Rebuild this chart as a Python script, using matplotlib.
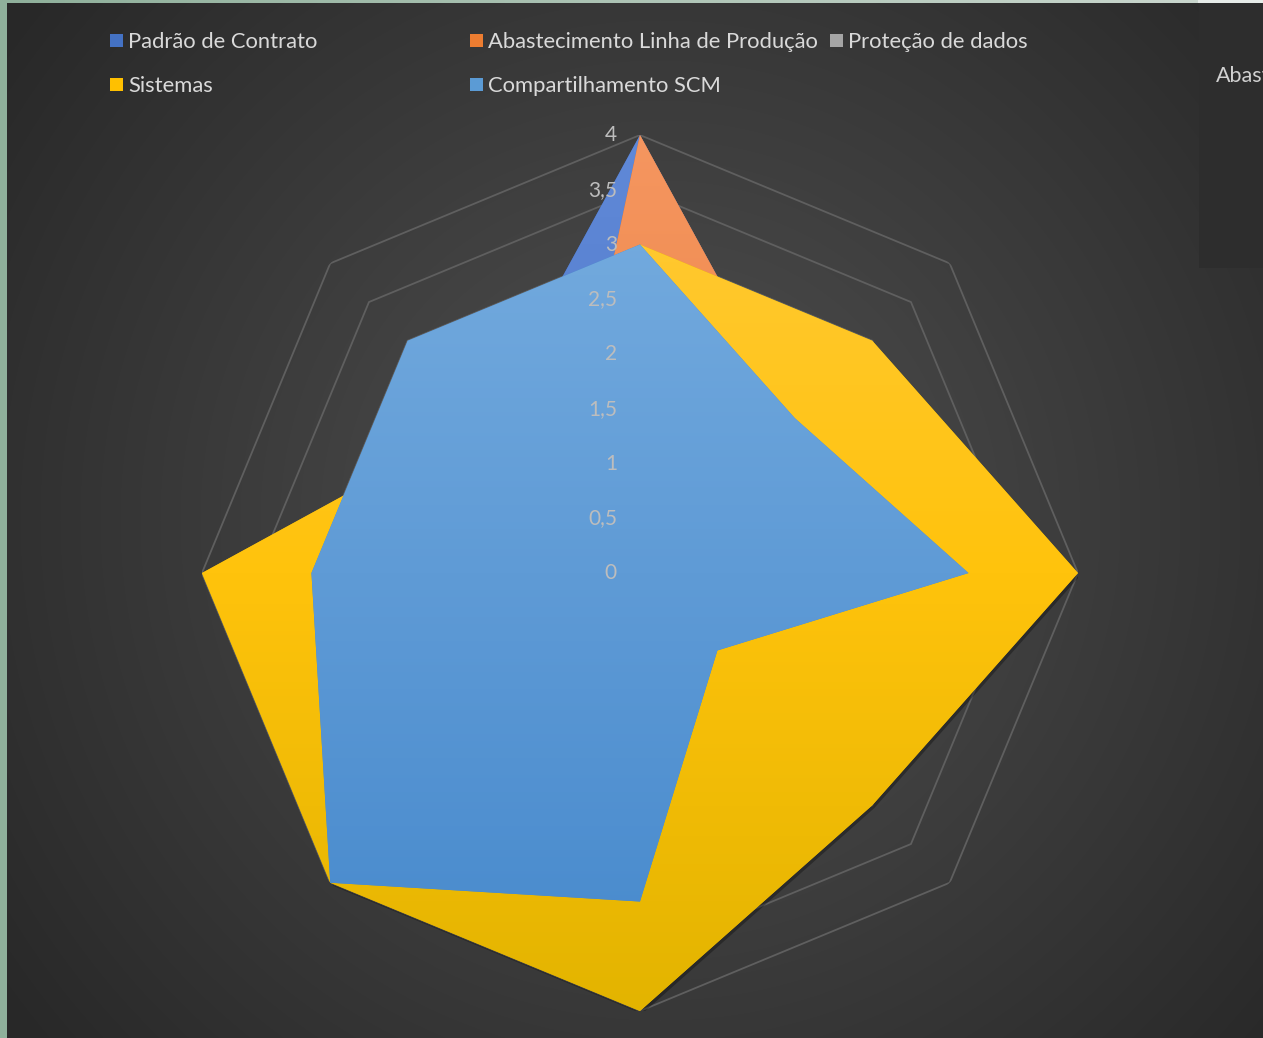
import numpy as np
import matplotlib
matplotlib.use('Agg')
import matplotlib.pyplot as plt
from matplotlib.colors import to_rgba
from matplotlib.patches import Rectangle
import matplotlib.patheffects as pe
from matplotlib.transforms import offset_copy

plt.rcParams['font.family'] = ['Lato', 'DejaVu Sans']

# ---- dados ----
eixos = ['E1', 'E2', 'E3', 'E4', 'E5', 'E6', 'E7', 'E8']
series = ['Padrão de Contrato', 'Abastecimento Linha de Produção',
          'Proteção de dados', 'Sistemas', 'Compartilhamento SCM']
padrao = [4, 2, 3, 1, 3, 3, 3, 2]
abastecimento = [4, 2, 2, 1, 2, 3, 2, 1]
protecao = [3, 2, 3, 1, 2, 3, 3, 2]
sistemas = [3, 3, 4, 3, 4, 4, 4, 2]
compartilhamento = [3, 2, 3, 1, 3, 4, 3, 3]
niveis = [0, 0.5, 1, 1.5, 2, 2.5, 3, 3.5, 4]
rotulos = ['0', '0,5', '1', '1,5', '2', '2,5', '3', '3,5', '4']

valores = [padrao, abastecimento, protecao, sistemas, compartilhamento]
# paradas do degradê vertical de cada série (topo -> meio -> base)
cores = [('#6089d8', '#5079c8', '#3f69ba'),
         ('#f59660', '#ec8444', '#da6d26'),
         ('#b8b8b8', '#a6a6a6', '#949494'),
         ('#ffca3a', '#ffc30c', '#e3b400'),
         ('#78aee0', '#5f9bd6', '#4588cc')]
cores_leg = ['#4472c4', '#ed7d31', '#a5a5a5', '#ffc000', '#5b9bd5']


def degrade(paradas, n=256):
    t = np.linspace(0, 1, n)
    pos = [0, 0.5, 1]
    rgba = np.array([to_rgba(c) for c in paradas])
    out = np.stack([np.interp(t, pos, rgba[:, k]) for k in range(4)], axis=-1)
    return out[:, None, :]


W, H = 1263, 1038
fig = plt.figure(figsize=(W / 100, H / 100), dpi=100)

# ---- fundo com degradê radial ----
bg = fig.add_axes([0, 0, 1, 1])
bg.set_xlim(0, W)
bg.set_ylim(H, 0)
bg.axis('off')
yy, xx = np.mgrid[0:H, 0:W]
d = np.hypot(xx - 660, yy - 520) / 820
d = np.clip(d, 0, 1)
c0, c1 = np.array(to_rgba('#515151')), np.array(to_rgba('#282828'))
img = c0[None, None, :] * (1 - d[..., None]) + c1[None, None, :] * d[..., None]
bg.imshow(img, extent=[0, W, H, 0], aspect='auto', zorder=0)

# bordas da janela
faixa = np.linspace(0, 1, 256)[None, :, None]
ct0, ct1 = np.array(to_rgba('#8fb09b')), np.array(to_rgba('#c9d6cd'))
bg.imshow(ct0 * (1 - faixa) + ct1 * faixa, extent=[0, 1198, 3, 0],
          aspect='auto', zorder=1)
bg.add_patch(Rectangle((1198, 0), W - 1198, 3, color='#e6ece8', zorder=1, lw=0))
bg.add_patch(Rectangle((0, 0), 7, H, color='#8fb09b', zorder=2, lw=0))
bg.add_patch(Rectangle((1199, 3), W - 1199, 265, color='#2d2d2d', zorder=1, lw=0))
bg.text(1216, 76, 'Abastecimento', color='#d0d0d0', fontsize=15.5,
        va='center', ha='left', zorder=3, clip_on=True)
bg.set_xlim(0, W)
bg.set_ylim(H, 0)

# ---- legenda ----
col_x = [110, 470, 830]
lin_y = [42, 86]
for i, nome in enumerate(series):
    x = col_x[i % 3]
    y = lin_y[i // 3]
    bg.add_patch(Rectangle((x, y - 8), 13, 13, color=cores_leg[i], lw=0, zorder=3))
    bg.text(x + 18, y, nome, color='#d9d9d9', fontsize=15.8, va='center',
            ha='left', zorder=3)

# ---- radar ----
ax = fig.add_axes([0.1599, 0.026, 0.6936, 0.8439], projection='polar')
ax.set_facecolor('none')
ax.set_theta_zero_location('N')
ax.set_theta_direction(-1)
ax.spines['polar'].set_visible(False)
ax.grid(False)
ax.set_xticks([])
ax.set_yticks([])

theta = np.linspace(0, 2 * np.pi, len(eixos), endpoint=False)
theta_c = np.append(theta, theta[0])

for nv in niveis[1:]:
    ax.plot(theta_c, [nv] * len(theta_c), color='#5f5f5f', lw=1.3, zorder=0.5)

for i, vals in enumerate(valores):
    z = 1 + i * 0.1
    efeitos = None
    if series[i] == 'Sistemas':
        # sombra suave só na área externa
        efeitos = [pe.SimplePatchShadow(offset=(1.5, -2), shadow_rgbFace='black',
                                        alpha=0.3), pe.Normal()]
    poly = ax.fill(theta, vals, color=cores[i][2], lw=0, zorder=z,
                   path_effects=efeitos)[0]
    im = ax.imshow(degrade(cores[i]), extent=[0, 1, 0, 1], transform=ax.transAxes,
                   aspect='auto', zorder=z + 0.05, origin='upper')
    im.set_clip_path(poly)

ax.set_xlim(0, 2 * np.pi)
ax.set_ylim(0, 4)

# rótulos do eixo de valores
trans = offset_copy(ax.transData, fig=fig, x=-23, y=0, units='dots')
for nv, rt in zip(niveis, rotulos):
    ax.text(0, nv, rt, transform=trans, ha='right', va='center',
            color='#bdbdbd', fontsize=15, zorder=5)

fig.savefig('out.png', dpi=100)
